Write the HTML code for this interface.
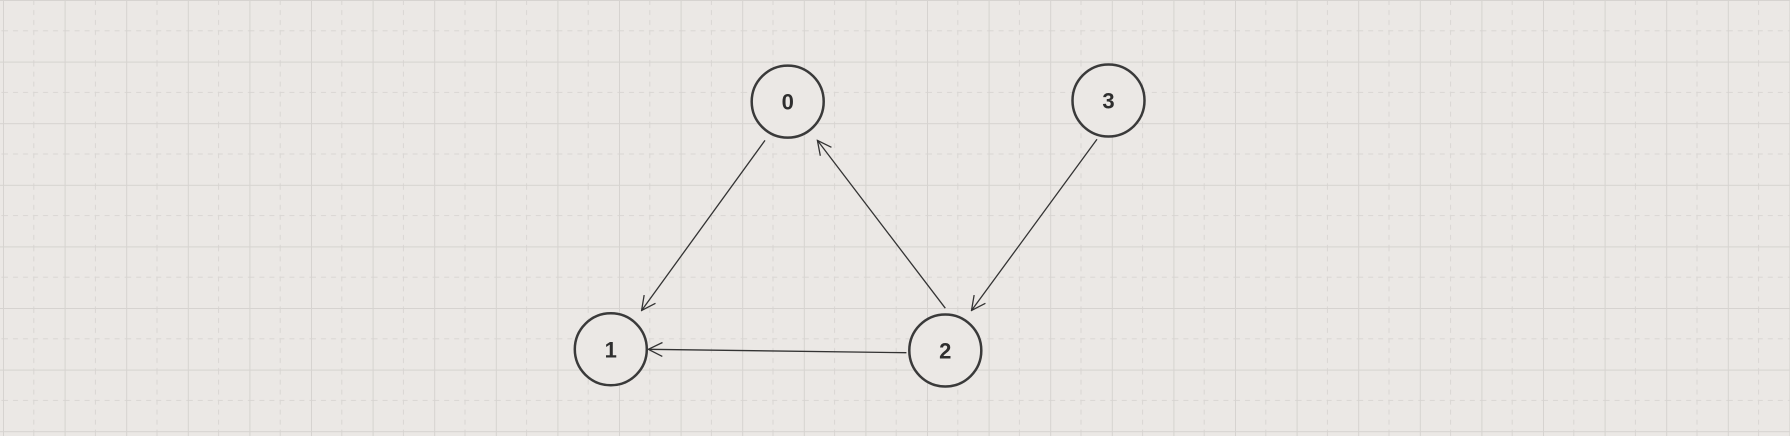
<!DOCTYPE html>
<html><head><meta charset="utf-8"><style>
html,body{margin:0;padding:0;background:#ebe8e5;}
svg{display:block}
</style></head><body>
<svg width="1790" height="436" xmlns="http://www.w3.org/2000/svg">
<defs>
<pattern id="g" x="3" y="0" width="61.6" height="61.6" patternUnits="userSpaceOnUse">
<line x1="30.8" y1="0" x2="30.8" y2="61.6" stroke="#d9d6d3" stroke-width="1" stroke-dasharray="5,5"/>
<line x1="0" y1="30.8" x2="61.6" y2="30.8" stroke="#d9d6d3" stroke-width="1" stroke-dasharray="5,5"/>
<line x1="0.5" y1="0" x2="0.5" y2="61.6" stroke="#d6d3d0" stroke-width="1"/>
<line x1="0" y1="0.5" x2="61.6" y2="0.5" stroke="#d6d3d0" stroke-width="1"/>
</pattern>
<marker id="a" markerWidth="16" markerHeight="16" refX="15" refY="8" orient="auto" markerUnits="userSpaceOnUse">
<path d="M1,1 L15,8 L1,15" fill="none" stroke="#333" stroke-width="1.3"/>
</marker>
</defs>
<rect width="1790" height="436" fill="url(#g)"/>
<g stroke="#333" stroke-width="1.3" fill="none">
<line x1="765" y1="140.4" x2="641.6" y2="310.5" marker-end="url(#a)"/>
<line x1="945.3" y1="308.2" x2="817.4" y2="140.4" marker-end="url(#a)"/>
<line x1="1097" y1="139.3" x2="971.5" y2="310.5" marker-end="url(#a)"/>
<line x1="906.4" y1="352.7" x2="648.4" y2="349.3" marker-end="url(#a)"/>
</g>
<g stroke="#3a3a3a" stroke-width="2.5" fill="#ebe8e5">
<circle cx="787.7" cy="101.6" r="36"/>
<circle cx="1108.5" cy="100.5" r="36"/>
<circle cx="610.8" cy="349.3" r="36"/>
<circle cx="945.3" cy="350.5" r="36"/>
</g>
<g font-family="Liberation Sans, sans-serif" font-weight="bold" font-size="22" fill="#2e2e2e" text-anchor="middle">
<text x="787.7" y="109.5">0</text>
<text x="1108.5" y="108.5">3</text>
<text x="610.8" y="357.3">1</text>
<text x="945.3" y="358.5">2</text>
</g>
</svg>
</body></html>
